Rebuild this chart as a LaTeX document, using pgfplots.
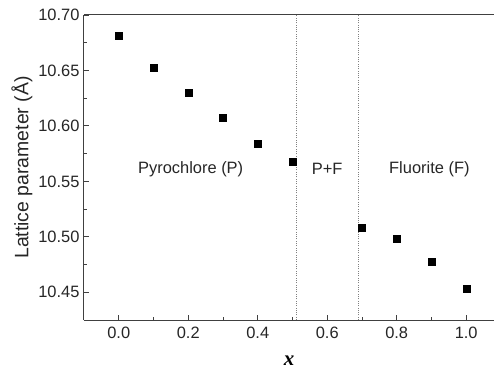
\documentclass[border=0pt]{standalone}
\usepackage{pgfplots}
\pgfplotsset{compat=1.18}
\usepackage{fontspec}
\setmainfont{Liberation Sans}
\newfontfamily\timesf{Liberation Serif}
\begin{document}
\begin{tikzpicture}
\begin{axis}[name=ax, scale only axis, width=410bp, height=305bp,
  xmin=-0.1, xmax=1.08, ymin=10.425, ymax=10.70,
  axis x line*=bottom, axis y line*=left,
  axis line style={black!75, line width=1bp, -},
  every tick/.style={black!75, line width=0.9bp},
  tick align=inside,
  major tick length=5bp, minor tick length=3bp,
  xtick={0,0.2,0.4,0.6,0.8,1.0}, minor x tick num=1,
  ytick={10.45,10.50,10.55,10.60,10.65,10.70}, minor y tick num=1,
  /pgf/number format/assume math mode=true,
  xticklabel style={/pgf/number format/.cd, fixed, zerofill, precision=1, /tikz/.cd, yshift=-4bp},
  yticklabel style={/pgf/number format/.cd, fixed, zerofill, precision=2, /tikz/.cd, xshift=-1bp},
  ticklabel style={font=\fontsize{16.5}{19}\selectfont, text=black!85},
  xlabel={{\timesf\bfseries\itshape x}},
  xlabel style={font=\fontsize{21}{24}\selectfont, text=black, yshift=-10bp},
  ylabel={Lattice parameter (Å)},
  ylabel style={font=\fontsize{19.5}{22}\selectfont, text=black!85, yshift=-1bp},
  clip=false,
]
\addplot[black!50, line width=0.9bp, dash pattern=on 1bp off 1.3bp] coordinates {(0.51,10.425) (0.51,10.70)};
\addplot[black!50, line width=0.9bp, dash pattern=on 1bp off 1.3bp] coordinates {(0.69,10.425) (0.69,10.70)};
\addplot[only marks, mark=square*, mark size=3.5bp, black] coordinates {
(0.0,10.681) (0.1,10.6525) (0.2,10.630) (0.3,10.607) (0.4,10.584) (0.5,10.5676)
(0.7,10.508) (0.8,10.498) (0.9,10.478) (1.0,10.453)};
\draw[black!75, line width=1bp] (rel axis cs:0,1) -- (rel axis cs:1,1);
\node[font=\fontsize{16.5}{19}\selectfont, text=black!85] at (axis cs:0.207,10.561) {Pyrochlore (P)};
\node[font=\fontsize{16.5}{19}\selectfont, text=black!85] at (axis cs:0.600,10.561) {P+F};
\node[font=\fontsize{16.5}{19}\selectfont, text=black!85] at (axis cs:0.894,10.561) {Fluorite (F)};
\end{axis}
\pgfresetboundingbox
\path[use as bounding box] ([xshift=-84bp,yshift=-50bp]ax.south west) rectangle ([yshift=15bp]ax.north east);
\end{tikzpicture}
\end{document}
